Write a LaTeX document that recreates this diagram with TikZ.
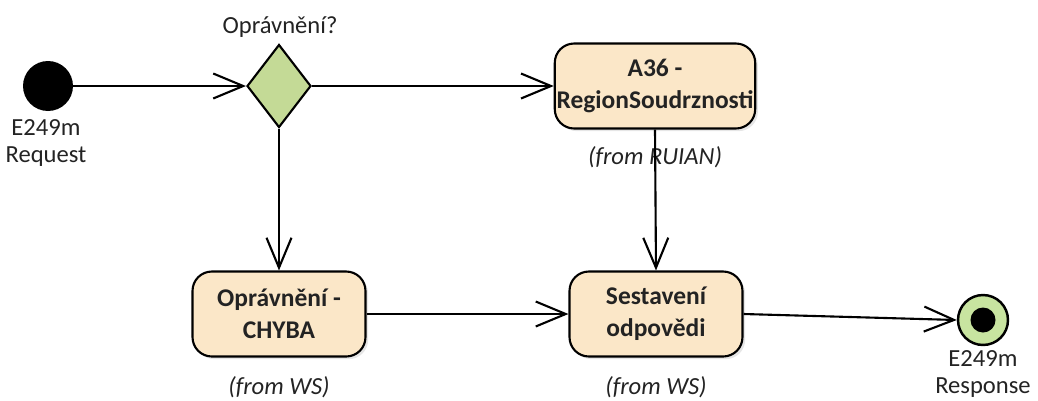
\documentclass[tikz,border=0pt]{standalone}
\usepackage{fontspec}
\setmainfont{Carlito}
\usetikzlibrary{arrows.meta,shapes.geometric,shadows}
\definecolor{actfill}{RGB}{251,231,200}
\definecolor{decfill}{RGB}{196,218,150}
\definecolor{endfill}{RGB}{200,228,160}
\definecolor{txt}{RGB}{35,35,35}

\begin{document}
\begin{tikzpicture}[x=0.02cm, y=-0.02cm,
    every node/.style={text=txt, font=\fontsize{14}{15.5}\selectfont},
    initial/.style={circle, fill=black, minimum size=1cm, inner sep=0pt},
    final/.style={circle, draw, fill=endfill, line width=1.4pt, minimum size=1cm, inner sep=0pt},
    dot/.style={circle, fill=black, minimum size=0.5cm, inner sep=0pt},
    decision/.style={diamond, draw, fill=decfill, line width=1.2pt, minimum width=1.28cm, minimum height=1.66cm, inner sep=0pt},
    action/.style={draw, rounded corners=11pt, fill=actfill, line width=1.2pt, minimum height=1.7cm, align=center,
        inner xsep=1pt, font=\fontsize{14.5}{18}\selectfont\bfseries,
        drop shadow={shadow xshift=1.5pt, shadow yshift=-1.5pt, opacity=0.2}},
    caption/.style={align=center},
    note/.style={font=\fontsize{14}{15.5}\selectfont\itshape},
    flow/.style={line width=1.2pt, -{Straight Barb[length=0.6cm, width=0.5cm]}}
]
\useasboundingbox (0,0) rectangle (1038,400);

% start
\node[initial] (req) at (48,86) {};
\node[caption] (reqlbl) at (46,143) {E249m\\Request};

% decision
\node[decision] (opr) at (279,86) {};
\node (oprlbl) at (280,27) {Oprávnění?};

% activities
\node[action, minimum width=3.92cm] (a36) at (655,86) {A36 -\\RegionSoudrznosti};
\node[note] (a36from) at (655,157) {(from RUIAN)};

\node[action, minimum width=3.46cm] (chyba) at (279,314) {Oprávnění -\\CHYBA};
\node[note] (chybafrom) at (279,387) {(from WS)};

\node[action, minimum width=3.46cm] (sest) at (656,314) {Sestavení\\odpovědi};
\node[note] (sestfrom) at (656,387) {(from WS)};

% end
\node[final] (resp) at (983,320) {};
\node[dot] (respdot) at (resp) {};
\node[caption] (resplbl) at (983,374) {E249m\\Response};

% flows
\draw[flow] (req) -- (opr.west);
\draw[flow] (opr.east) -- (a36.west);
\draw[flow] (opr.south) -- (chyba.north);
\draw[flow] (a36.south) -- (sest.north);
\draw[flow] (chyba.east) -- (sest.west);
\draw[flow] (sest.east) -- (resp.west);

\end{tikzpicture}
\end{document}
